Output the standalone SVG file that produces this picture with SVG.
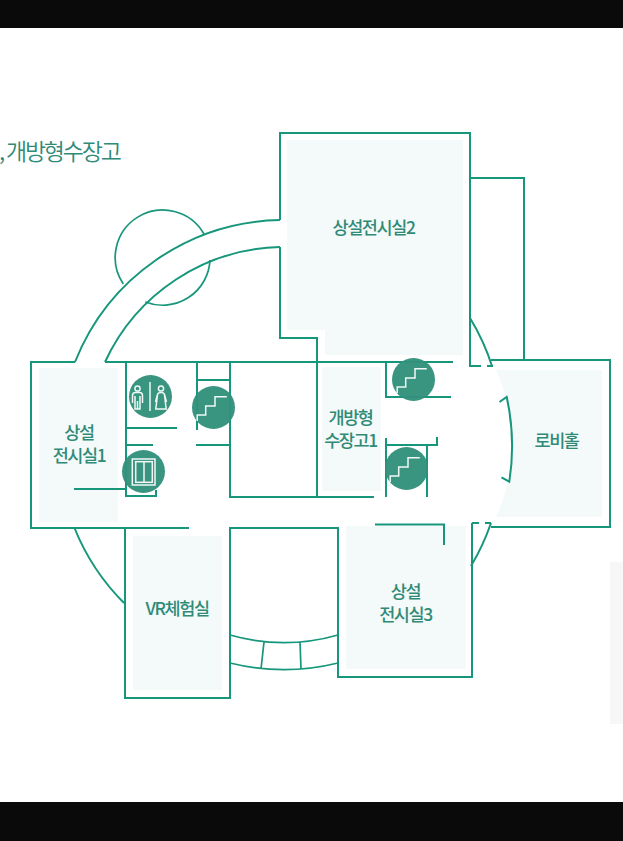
<svg xmlns="http://www.w3.org/2000/svg" width="623" height="841" viewBox="0 0 623 841">
<style>
.wall{fill:none;stroke:#16967a;stroke-width:2}
.fine{fill:none;stroke:#16967a;stroke-width:1.7}
.room{fill:#f4f9f9}
.lbl{font-family:"Noto Sans CJK KR","Noto Sans",sans-serif;font-size:17.5px;font-weight:500;fill:#2f8b77;text-anchor:middle;letter-spacing:-1.4px}
.badge{fill:#33917c;fill-opacity:.97}
.ico{fill:none;stroke:#f1f8f6;stroke-width:1.5}
</style>
<defs>
<g id="stair"><circle class="badge" r="21.5"/><path class="ico" d="M-16.3,13.5V7.5H-7.8V-1.5H1.5V-10.8H13.3"/></g>
</defs>
<rect width="623" height="841" fill="#fff"/>
<rect width="623" height="28" fill="#0a0a0a"/>
<rect y="802" width="623" height="39" fill="#0a0a0a"/>
<rect x="610" y="562" width="13" height="162" fill="#f7f7f7"/>
<text x="-1" y="160" style="font-family:'Noto Sans CJK KR','Noto Sans',sans-serif;font-size:23px;font-weight:350;fill:#2f8b77;letter-spacing:-2.2px">, 개방형수장고</text>
<g id="room-exhibit2"><path class="room" d="M287,140H463V355H325V330H287Z"/><text class="lbl" x="373.500" y="234">상설전시실2</text></g>
<g id="room-exhibit1"><rect class="room" x="39" y="368" width="79" height="154"/><text class="lbl" x="79" y="439">상설</text><text class="lbl" x="79" y="462">전시실1</text></g>
<g id="room-storage"><rect class="room" x="322" y="367" width="59" height="124"/><text class="lbl" x="350.500" y="423.500">개방형</text><text class="lbl" x="350.500" y="446.500">수장고1</text></g>
<g id="room-lobby"><path class="room" d="M496,370H602V517H496A177,177 0 0 0 496,370Z"/><text class="lbl" x="556.500" y="447">로비홀</text></g>
<g id="room-vr"><rect class="room" x="133" y="536" width="89" height="154"/><text class="lbl" x="177" y="615">VR체험실</text></g>
<g id="room-exhibit3"><rect class="room" x="346" y="526" width="120" height="143"/><text class="lbl" x="405.500" y="597.500">상설</text><text class="lbl" x="405.500" y="620.500">전시실3</text></g>
<g id="connectors">
<path class="wall" d="M75,362H31V528H189M105,362H453"/>
<path class="wall" d="M75,362A225,225 0 0 1 280,220M105,362A198,198 0 0 1 280,247"/>
<path class="wall" d="M280,220V133H470V366H481M487,366H493M470,178H524V360M280,247V338H317V497M230,362V497H374"/>
<path class="wall" d="M470,318A225,225 0 0 1 492,366M491,360H610V527H491M491,523A225,225 0 0 1 471,566M472,523H479M485,523H491M472,523V677H338V528H230V698H125V528"/>
<path class="wall" d="M74.500,528A225,225 0 0 0 124,603"/>
<path class="fine" d="M230,635A197,197 0 0 0 338,635M230,663A225,225 0 0 0 338,663M264,642L261,669M300,642L301,669"/>
<path class="fine" d="M123.300,284A47.500,47.500 0 1 1 204,234M145.300,302A47.500,47.500 0 0 0 210,260"/>
<path class="wall" d="M126,362V496H156V490M74,489H126M126,428H177M126,445H153M197,362V430M197,380H230M196,445H230"/>
<path class="wall" d="M386,362V397H451M386,438V497M386,445H437V437M427,445V497M375,524.500H444V545"/>
<path class="wall" d="M499.500,402L506.700,397A228,228 0 0 1 509.300,481.700L501.500,477.300"/>
</g>
<g id="icon-toilet"><circle class="badge" cx="150.500" cy="396.500" r="21.500"/>
<path class="ico" d="M150,382V411"/>
<circle class="ico" cx="137.500" cy="388.500" r="2.600"/><path class="ico" d="M132.500,403V395.500Q132.500,392.500 135.500,392.500H139.500Q142.500,392.500 142.500,395.500V403M135,396V409H140V396M137.500,401V409"/>
<circle class="ico" cx="161" cy="388.500" r="2.600"/><path class="ico" d="M155.500,402L157.500,394.500Q158,392.500 161,392.500Q164,392.500 164.500,394.500L166.500,402M157.500,395L155.800,409H166.200L164.500,395"/></g>
<g id="icon-elevator"><circle class="badge" cx="143.500" cy="471.500" r="21.500"/><rect class="ico" x="132.300" y="459" width="22.700" height="26"/><rect class="ico" x="135.700" y="461.700" width="16.600" height="20.600"/><path class="ico" d="M144,461.700V482.300"/></g>
<g id="stair-1"><use href="#stair" x="213.500" y="407.500"/></g>
<g id="stair-2"><use href="#stair" x="413.500" y="379.500"/></g>
<g id="stair-3"><use href="#stair" x="406.500" y="468.500"/></g>
</svg>
